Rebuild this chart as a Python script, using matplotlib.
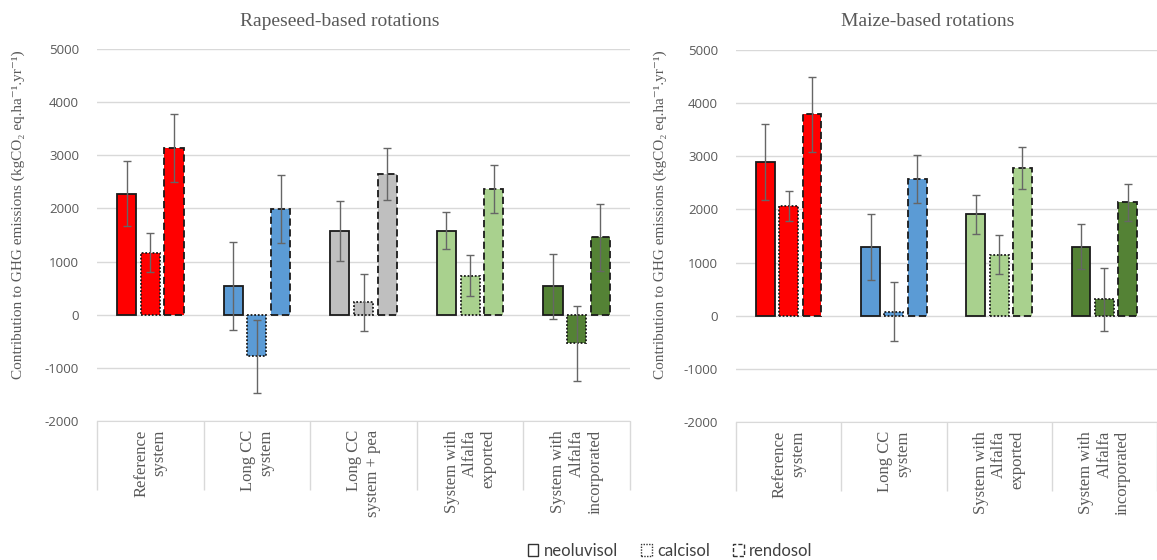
import matplotlib
matplotlib.use("Agg")
import matplotlib.pyplot as plt
from matplotlib.patches import Patch
import numpy as np

plt.rcParams['axes.unicode_minus'] = False

soils = ['neoluvisol', 'calcisol', 'rendosol']

# Rapeseed-based rotations
rape_cats = ['Reference\nsystem', 'Long CC\nsystem', 'Long CC\nsystem + pea',
             'System with\nAlfalfa\nexported', 'System with\nAlfalfa\nincorporated']
rape_colors = ['#FF0000', '#5B9BD5', '#BFBFBF', '#A9D18E', '#548235']
rape_neo = [2280, 540, 1577, 1583, 534]
rape_cal = [1168, -786, 232, 735, -541]
rape_ren = [3141, 1985, 2651, 2362, 1456]
rape_neo_err = [615, 820, 560, 350, 610]
rape_cal_err = [365, 680, 535, 390, 710]
rape_ren_err = [640, 635, 490, 450, 625]

# Maize-based rotations
maize_cats = ['Reference\nsystem', 'Long CC\nsystem',
              'System with\nAlfalfa\nexported', 'System with\nAlfalfa\nincorporated']
maize_colors = ['#FF0000', '#5B9BD5', '#A9D18E', '#548235']
maize_neo = [2887, 1289, 1906, 1302]
maize_cal = [2063, 75, 1151, 308]
maize_ren = [3792, 2572, 2780, 2132]
maize_neo_err = [715, 625, 365, 425]
maize_cal_err = [285, 550, 375, 595]
maize_ren_err = [705, 450, 400, 345]

serif = ['Liberation Serif', 'DejaVu Serif']
sans = ['Open Sans', 'DejaVu Sans']
legfont = ['Lato', 'DejaVu Sans']
grey = '#595959'
ylab = 'Contribution to GHG emissions (kgCO\u2082 eq.ha\u207b\u00b9.yr\u207b\u00b9)'

W, H = 1157, 560
fig = plt.figure(figsize=(W / 100, H / 100), dpi=100)


def panel(rect, cats, colors, neo, cal, ren, neo_e, cal_e, ren_e):
    ax = fig.add_axes(rect)
    n = len(cats)
    x = np.arange(n)
    styles = ['solid', (0, (1, 1)), (0, (4, 2))]
    vals = [neo, cal, ren]
    errs = [neo_e, cal_e, ren_e]
    for k in range(3):
        ax.bar(x + (k - 1) * 0.222, vals[k], width=0.18, color=colors,
               edgecolor='#1a1a1a', linewidth=1.3, linestyle=styles[k],
               yerr=errs[k], ecolor='#666666',
               error_kw=dict(elinewidth=1, capsize=3, capthick=1), zorder=3)
    ax.set_ylim(-2000, 5000)
    ax.set_xlim(-0.5, n - 0.5)
    ax.set_yticks(range(-2000, 5001, 1000))
    ax.yaxis.grid(True, color='#D9D9D9', linewidth=1, zorder=0)
    for s in ['top', 'right', 'left']:
        ax.spines[s].set_visible(False)
    ax.spines['bottom'].set_color('#D9D9D9')
    ax.tick_params(axis='y', length=0, labelsize=9.5, labelcolor=grey, pad=13)
    for t in ax.get_yticklabels():
        t.set_fontfamily(sans)
    ax.set_xticks(x)
    ax.set_xticklabels(cats, rotation=90, fontfamily=serif, fontsize=12,
                       color=grey, va='top', ha='center', linespacing=1.2)
    for t in ax.get_xticklabels():
        t.set_multialignment('right')
    ax.set_xticks(np.arange(-0.5, n, 1), minor=True)
    ax.tick_params(axis='x', which='major', length=0, pad=6.5)
    ax.tick_params(axis='x', which='minor', length=50, color='#D9D9D9', width=1)
    return ax


ax1 = panel([97 / W, (H - 421) / H, (630 - 97) / W, (421 - 49) / H],
            rape_cats, rape_colors, rape_neo, rape_cal, rape_ren,
            rape_neo_err, rape_cal_err, rape_ren_err)
ax2 = panel([736 / W, (H - 422) / H, (1157 - 736) / W, (422 - 50) / H],
            maize_cats, maize_colors, maize_neo, maize_cal, maize_ren,
            maize_neo_err, maize_cal_err, maize_ren_err)

fig.text(340 / W, 1 - 21 / H, 'Rapeseed-based rotations', ha='center', va='center',
         fontfamily=serif, fontsize=14, color=grey)
fig.text(928 / W, 1 - 21 / H, 'Maize-based rotations', ha='center', va='center',
         fontfamily=serif, fontsize=14, color=grey)
fig.text(18 / W, 1 - 215 / H, ylab, rotation=90, ha='center', va='center',
         fontfamily=serif, fontsize=11, color=grey)
fig.text(660 / W, 1 - 215 / H, ylab, rotation=90, ha='center', va='center',
         fontfamily=serif, fontsize=11, color=grey)

handles = [Patch(facecolor='white', edgecolor='#333333', linewidth=1, linestyle=ls)
           for ls in ['solid', (0, (1, 1)), (0, (3, 1.5))]]
fig.legend(handles, soils, loc='center', bbox_to_anchor=(670 / W, 1 - 551 / H),
           ncol=3, frameon=False, handlelength=0.65, handleheight=0.75,
           handletextpad=0.3, columnspacing=1.4,
           prop={'family': legfont, 'size': 12}, labelcolor='#404040')

fig.savefig('out.png', dpi=100)
